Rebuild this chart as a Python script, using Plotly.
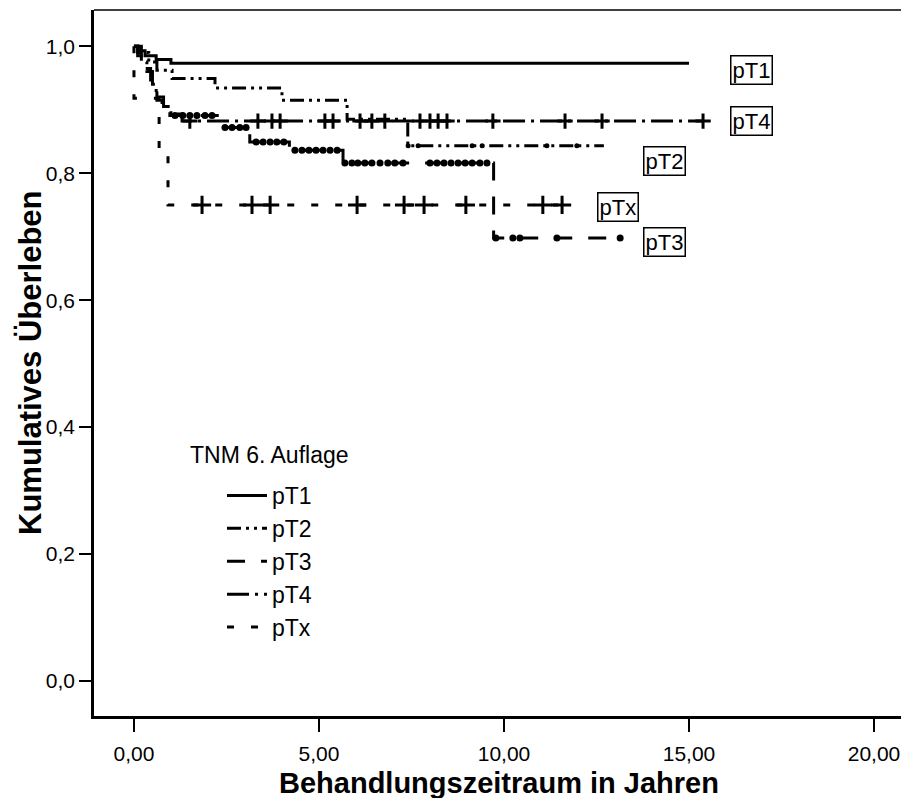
import plotly.graph_objects as go

# ---------------- data ----------------
groups = ["pT1", "pT2", "pT3", "pT4", "pTx"]

# step curves: event times (years) and survival after each time
pT1_t = [0.0, 0.12, 0.3, 0.6, 1.0, 15.0]
pT1_s = [1.0, 0.993, 0.985, 0.979, 0.973, 0.973]
pT1_c = []

pT2_t = [0.0, 0.2, 0.4, 0.62, 1.03, 2.19, 4.0, 5.76, 7.4, 12.7]
pT2_s = [1.0, 0.99, 0.975, 0.962, 0.949, 0.934, 0.915, 0.885, 0.843, 0.843]
pT2_c = [7.41, 7.68, 9.14, 9.41, 11.16, 11.97]

pT3_t = [0.0, 0.1, 0.25, 0.45, 0.62, 0.76, 0.97, 2.3, 3.13, 4.2, 5.65, 9.72, 13.14]
pT3_s = [1.0, 0.985, 0.965, 0.94, 0.915, 0.902, 0.891, 0.872, 0.849, 0.836, 0.816, 0.698, 0.698]
pT3_c = [1.11, 1.32, 1.51, 1.70, 1.92, 2.11, 2.46, 2.65, 2.86, 3.03, 3.30, 3.49, 3.68,
         3.86, 4.05, 4.35, 4.54, 4.73, 4.92, 5.11, 5.30, 5.49, 5.70, 5.89, 6.05, 6.24,
         6.43, 6.65, 6.86, 7.05, 7.27, 8.0, 8.19, 8.38, 8.57, 8.76, 8.95, 9.14, 9.35,
         9.54, 9.78, 10.24, 10.43, 11.43, 13.14]

pT4_t = [0.0, 0.1, 0.2, 0.35, 0.5, 0.6, 0.8, 1.0, 1.3, 15.4]
pT4_s = [1.0, 0.99, 0.975, 0.96, 0.94, 0.92, 0.905, 0.893, 0.882, 0.882]
pT4_c = [1.51, 3.35, 3.73, 3.95, 5.16, 5.38, 6.11, 6.43, 6.78, 7.73, 8.0, 8.22, 8.46,
         9.70, 11.65, 12.65, 15.38]

pTx_t = [0.0, 0.0, 0.68, 0.92, 11.6]
pTx_s = [1.0, 0.918, 0.835, 0.75, 0.75]
pTx_c = [1.84, 3.19, 3.68, 6.03, 7.30, 7.84, 8.97, 11.05, 11.57]

x_ticks = [0, 5, 10, 15, 20]
x_ticklabels = ["0,00", "5,00", "10,00", "15,00", "20,00"]
y_ticks = [0, 0.2, 0.4, 0.6, 0.8, 1.0]
y_ticklabels = ["0,0", "0,2", "0,4", "0,6", "0,8", "1,0"]

label_pos = {"pT1": (16.7, 0.962), "pT4": (16.7, 0.882), "pT2": (14.35, 0.819),
             "pTx": (13.08, 0.746), "pT3": (14.35, 0.691)}

# ---------------- styles ----------------
FONT = "Liberation Sans, Arial, sans-serif"
curves = {
    "pT1": (pT1_t, pT1_s, pT1_c, "solid", None),
    "pT2": (pT2_t, pT2_s, pT2_c, "14px,5px,3px,5px,3px,5px", ("circle", 5)),
    "pT3": (pT3_t, pT3_s, pT3_c, "18px,16px", ("circle", 7)),
    "pT4": (pT4_t, pT4_s, pT4_c, "22px,6px,3px,6px", ("cross-thin", 11)),
    "pTx": (pTx_t, pTx_s, pTx_c, "7px,17px", ("cross-thin", 13)),
}


def surv_at(t, ts, ss):
    val = ss[0]
    for ti, si in zip(ts, ss):
        if ti <= t:
            val = si
    return val


fig = go.Figure()
for g in groups:
    ts, ss, cs, dash, mk = curves[g]
    fig.add_trace(go.Scatter(
        x=ts, y=ss, mode="lines", name=g, legendgroup=g,
        line=dict(color="black", width=3, dash=dash, shape="hv"),
    ))
    if cs and mk:
        sym, size = mk
        marker = dict(symbol=sym, size=size, color="black",
                      line=dict(color="black", width=3 if sym == "cross-thin" else 0))
        fig.add_trace(go.Scatter(
            x=cs, y=[surv_at(c, ts, ss) for c in cs], mode="markers",
            marker=marker, showlegend=False, legendgroup=g, hoverinfo="skip",
        ))

annotations = []
for g, (lx, ly) in label_pos.items():
    annotations.append(dict(x=lx, y=ly, xref="x", yref="y", text=g, showarrow=False,
                            font=dict(family=FONT, size=22, color="black"),
                            bordercolor="black", borderwidth=1.5, borderpad=1,
                            bgcolor="white"))
annotations.append(dict(x=0.502, y=-0.095, xref="paper", yref="paper",
                        text="Behandlungszeitraum in Jahren", showarrow=False,
                        xanchor="center", yanchor="middle",
                        font=dict(family=FONT, size=29, color="black", weight="bold")))
annotations.append(dict(x=-0.0793, y=0.5, xref="paper", yref="paper",
                        text="Kumulatives Überleben", showarrow=False, textangle=-90,
                        xanchor="center", yanchor="middle",
                        font=dict(family=FONT, size=31, color="black", weight="bold")))
annotations.append(dict(x=(188 - 94) / 807, y=(716 - 455) / 706, xref="paper", yref="paper",
                        text="TNM 6. Auflage", showarrow=False,
                        xanchor="left", yanchor="middle",
                        font=dict(family=FONT, size=23, color="black")))

fig.update_layout(
    width=901, height=798,
    margin=dict(l=94, r=0, t=10, b=82),
    paper_bgcolor="white", plot_bgcolor="white",
    font=dict(family=FONT, size=21, color="black"),
    showlegend=True,
    legend=dict(x=(222 - 94) / 807, y=(716 - 474) / 706, xanchor="left", yanchor="top",
                bgcolor="rgba(0,0,0,0)", font=dict(family=FONT, size=23),
                tracegroupgap=0, itemwidth=40),
    annotations=annotations,
    shapes=[dict(type="line", xref="paper", yref="paper", x0=0, x1=1, y0=1, y1=1,
                 line=dict(color="black", width=1.5))],
    xaxis=dict(range=[-1.08, 20.73], tickvals=x_ticks, ticktext=x_ticklabels,
               showgrid=False, zeroline=False, showline=True, linecolor="black",
               linewidth=3, ticks="outside", ticklen=13, tickwidth=2,
               tickcolor="black", tickfont=dict(size=21), ticklabelstandoff=4),
    yaxis=dict(range=[-0.055, 1.057], tickvals=y_ticks, ticktext=y_ticklabels,
               showgrid=False, zeroline=False, showline=True, linecolor="black",
               linewidth=2.5, ticks="outside", ticklen=12, tickwidth=2,
               tickcolor="black", tickfont=dict(size=21)),
)

fig.write_html("out.html")
